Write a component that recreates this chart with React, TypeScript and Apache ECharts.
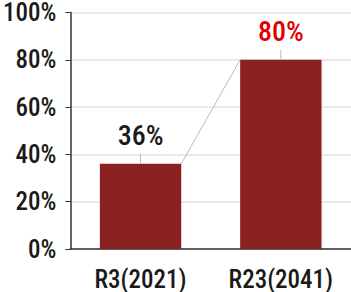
import React, { useEffect, useRef } from "react";
import * as echarts from "echarts";

const categories = ["R3(2021)", "R23(2041)"];
const values = [36, 80];
const labelColors = ["#1a1a1a", "#e00000"];
const yTicks = [0, 20, 40, 60, 80, 100];

const FONT = "'Roboto Condensed', 'Liberation Sans Narrow', sans-serif";
const BAR_FRAC = 0.58;

export default function App() {
  const ref = useRef<HTMLDivElement>(null);
  useEffect(() => {
    const chart = echarts.init(ref.current!, null, { renderer: "svg" });
    chart.setOption({
      animation: false,
      grid: { left: 67, right: 0, top: 7, bottom: 38 },
      xAxis: {
        type: "category",
        data: categories,
        axisLine: { lineStyle: { color: "#333", width: 1.5 } },
        axisTick: { show: false },
        axisLabel: {
          color: "#1a1a1a",
          fontSize: 25,
          fontWeight: 500,
          fontFamily: FONT,
          margin: 18,
          interval: 0,
          hideOverlap: false,
        },
      },
      yAxis: {
        type: "value",
        min: yTicks[0],
        max: yTicks[yTicks.length - 1],
        interval: 20,
        axisLine: { show: true, lineStyle: { color: "#333", width: 1.5 } },
        axisTick: { show: true, length: 5, lineStyle: { color: "#333" } },
        splitLine: { lineStyle: { color: "#e3e3e3", width: 1.5 } },
        axisLabel: {
          color: "#1a1a1a",
          fontSize: 25,
          fontWeight: 500,
          fontFamily: FONT,
          margin: 14,
          formatter: "{value}%",
        },
      },
      series: [
        {
          type: "bar",
          barWidth: BAR_FRAC * 100 + "%",
          data: values.map((v, i) => ({
            value: v,
            label: { color: labelColors[i] },
          })),
          itemStyle: { color: "#8b2020" },
          label: {
            show: true,
            position: "top",
            distance: 14,
            fontSize: 28,
            fontWeight: 500,
            fontFamily: FONT,
            formatter: "{c}%",
          },
          z: 2,
        },
        {
          type: "custom",
          data: values.map((v, i) => [i, v]),
          z: 3,
          renderItem: (params: any, api: any) => {
            const p = api.coord([api.value(0), api.value(1)]);
            return {
              type: "line",
              shape: { x1: p[0], y1: p[1], x2: p[0], y2: p[1] - 10 },
              style: { stroke: "#bbb", lineWidth: 1 },
            };
          },
        },
        {
          type: "custom",
          data: [[0, values[0], 1, values[1]]],
          z: 3,
          renderItem: (params: any, api: any) => {
            const a = api.coord([api.value(0), api.value(1)]);
            const b = api.coord([api.value(2), api.value(3)]);
            const half = (api.size([1, 0])[0] * BAR_FRAC) / 2;
            return {
              type: "line",
              shape: { x1: a[0] + half, y1: a[1], x2: b[0] - half, y2: b[1] },
              style: { stroke: "#bbb", lineWidth: 1 },
            };
          },
        },
      ],
    });
    return () => chart.dispose();
  }, []);
  return <div ref={ref} style={{ width: 351, height: 292, position: "absolute", left: 0, top: 0 }} />;
}
